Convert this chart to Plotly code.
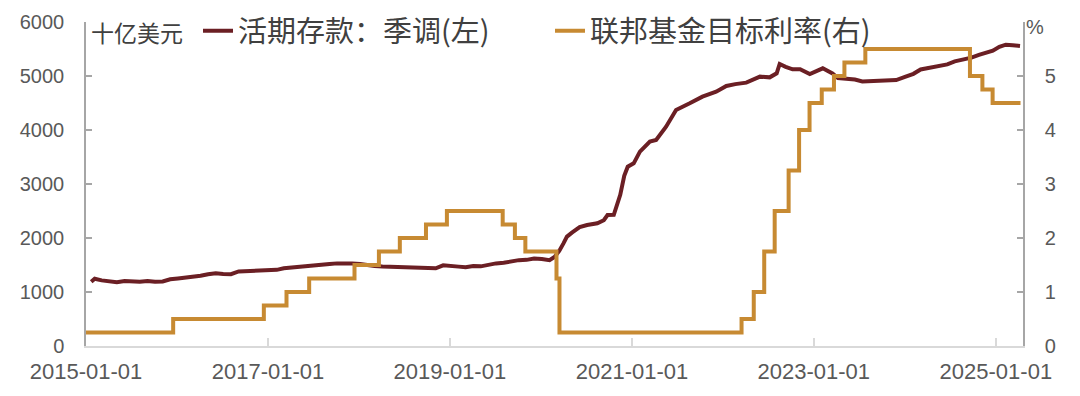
import plotly.graph_objects as go

# 活期存款：季调 (十亿美元)
dep_dates = [
    "2015-01-22", "2015-02-05", "2015-03-05", "2015-04-05", "2015-05-05", "2015-06-05",
    "2015-07-05", "2015-08-05", "2015-09-05", "2015-10-05", "2015-11-05", "2015-12-05",
    "2016-01-05", "2016-02-05", "2016-03-05", "2016-04-05", "2016-05-05", "2016-06-05",
    "2016-07-05", "2016-08-05", "2016-09-05", "2016-10-05", "2016-11-05", "2016-12-05",
    "2017-01-05", "2017-02-05", "2017-03-05", "2017-04-05", "2017-05-05", "2017-06-05",
    "2017-07-05", "2017-08-05", "2017-09-05", "2017-10-05", "2017-11-05", "2017-12-05",
    "2018-01-05", "2018-02-05", "2018-03-05", "2018-04-05", "2018-05-05", "2018-06-05",
    "2018-07-05", "2018-08-05", "2018-09-05", "2018-10-05", "2018-11-05", "2018-12-05",
    "2019-01-05", "2019-02-05", "2019-03-05", "2019-04-05", "2019-05-05", "2019-06-05",
    "2019-07-05", "2019-08-05", "2019-09-05", "2019-10-05", "2019-11-05", "2019-12-05",
    "2020-01-05", "2020-02-05", "2020-02-25", "2020-03-15", "2020-04-01", "2020-04-15",
    "2020-05-05", "2020-06-05", "2020-07-05", "2020-08-15", "2020-09-10", "2020-09-25",
    "2020-10-20", "2020-11-15", "2020-12-01", "2020-12-15", "2021-01-08", "2021-02-02",
    "2021-03-14", "2021-04-08", "2021-05-18", "2021-06-27", "2021-08-21", "2021-10-11",
    "2021-12-05", "2022-01-15", "2022-02-20", "2022-04-05", "2022-05-30", "2022-07-08",
    "2022-08-05", "2022-08-17", "2022-09-10", "2022-10-08", "2022-11-07", "2022-12-16",
    "2023-02-06", "2023-03-17", "2023-04-08", "2023-05-15", "2023-06-15", "2023-07-15",
    "2023-08-15", "2023-09-15", "2023-10-15", "2023-11-28", "2024-01-05", "2024-02-05",
    "2024-03-05", "2024-04-15", "2024-05-15", "2024-06-20", "2024-07-20", "2024-08-25",
    "2024-09-25", "2024-10-25", "2024-11-25", "2024-12-20", "2025-01-15", "2025-02-10",
    "2025-03-10", "2025-04-08",
]
dep_values = [
    1190, 1245, 1215, 1195, 1180, 1205,
    1200, 1190, 1205, 1190, 1195, 1235,
    1250, 1265, 1285, 1300, 1330, 1345,
    1335, 1330, 1380, 1385, 1390, 1395,
    1400, 1410, 1440, 1455, 1475, 1490,
    1495, 1515, 1520, 1530, 1535, 1530,
    1520, 1495, 1480, 1470, 1465, 1462,
    1465, 1458, 1455, 1450, 1440, 1495,
    1490, 1470, 1458, 1480, 1475, 1510,
    1530, 1540, 1565, 1590, 1595, 1620,
    1610, 1590, 1650, 1760, 1900, 2025,
    2100, 2200, 2240, 2272, 2330, 2426,
    2430, 2800, 3150, 3320, 3383, 3599,
    3784, 3815, 4061, 4370, 4494, 4617,
    4710, 4815, 4850, 4877, 4988, 4975,
    5050, 5222, 5170, 5124, 5124, 5037,
    5142, 5049, 4963, 4945, 4935, 4900,
    4905, 4915, 4920, 4925, 4990, 5040,
    5120, 5160, 5190, 5215, 5270, 5300,
    5340, 5390, 5430, 5470, 5540, 5580,
    5570, 5555,
]

# 联邦基金目标利率 (%)
ffr_dates = [
    "2015-01-01", "2015-12-17", "2016-12-15", "2017-03-16", "2017-06-15", "2017-12-14",
    "2018-03-22", "2018-06-14", "2018-09-27", "2018-12-20", "2019-08-01", "2019-09-19",
    "2019-10-31", "2020-03-04", "2020-03-16", "2022-03-17", "2022-05-05", "2022-06-16",
    "2022-07-28", "2022-09-22", "2022-11-03", "2022-12-15", "2023-02-02", "2023-03-23",
    "2023-05-04", "2023-07-27", "2024-09-19", "2024-11-08", "2024-12-19", "2025-04-10",
]
ffr_values = [
    0.25, 0.50, 0.75, 1.00, 1.25, 1.50,
    1.75, 2.00, 2.25, 2.50, 2.25, 2.00,
    1.75, 1.25, 0.25, 0.50, 1.00, 1.75,
    2.50, 3.25, 4.00, 4.50, 4.75, 5.00,
    5.25, 5.50, 5.00, 4.75, 4.50, 4.50,
]

x_tickvals = ["2015-01-01", "2017-01-01", "2019-01-01", "2021-01-01", "2023-01-01", "2025-01-01"]
x_ticktext = ["2015-01-01", "2017-01-01", "2019-01-01", "2021-01-01", "2023-01-01", "2025-01-01"]
left_ticks = [0, 1000, 2000, 3000, 4000, 5000, 6000]
right_ticks = [0, 1, 2, 3, 4, 5, 6]
right_ticktext = ["0", "1", "2", "3", "4", "5", ""]

MAROON = "#6B1F24"
GOLD = "#C78A32"
FAM = "Liberation Sans, Arial, sans-serif"
Y_FONT = dict(family=FAM, size=20, color="#595959")
X_FONT = dict(family=FAM, size=22, color="#595959")
CJK = "Noto Sans CJK SC, sans-serif"

# The page body has an 8px margin, so the figure is 8px smaller on each axis
OFF = 8
L, T, R, B = 86 - OFF, 22 - OFF, 57, 50
PW, PH = 937, 324

fig = go.Figure()
fig.add_trace(go.Scatter(
    x=dep_dates, y=dep_values, name="活期存款：季调(左)", mode="lines",
    line=dict(color=MAROON, width=4), yaxis="y",
))
fig.add_trace(go.Scatter(
    x=ffr_dates, y=ffr_values, name="联邦基金目标利率(右)", mode="lines",
    line=dict(color=GOLD, width=4, shape="hv"), yaxis="y2",
))

fig.update_layout(
    width=1080 - OFF, height=396 - OFF,
    margin=dict(l=L, r=R, t=T, b=B, autoexpand=False),
    paper_bgcolor="white", plot_bgcolor="white",
    showlegend=True,
    legend=dict(
        orientation="h", x=(198 - 86) / PW, xanchor="left",
        y=1 - (31 - 22) / PH, yanchor="middle",
        font=dict(family=CJK, size=29, color="#404040"),
        bgcolor="rgba(0,0,0,0)", entrywidth=307, entrywidthmode="pixels",
        traceorder="normal",
    ),
    xaxis=dict(
        type="date", range=["2015-01-01", "2025-04-20"], automargin=False,
        tickmode="array", tickvals=x_tickvals, ticktext=x_ticktext,
        showgrid=False, zeroline=False,
        showline=True, linecolor="#D9D9D9", linewidth=2,
        ticks="inside", ticklen=8, tickwidth=1.5, tickcolor="#D9D9D9",
        tickfont=X_FONT, ticklabelstandoff=5,
    ),
    yaxis=dict(
        range=[0, 6000], tickmode="array", tickvals=left_ticks, automargin=False,
        showgrid=False, zeroline=False,
        showline=True, linecolor="#A6A6A6", linewidth=1.5,
        ticks="inside", ticklen=6, tickwidth=1.5, tickcolor="#A6A6A6",
        tickfont=Y_FONT, ticklabelstandoff=16,
    ),
    yaxis2=dict(
        range=[0, 6], overlaying="y", side="right", tickmode="array", automargin=False,
        tickvals=right_ticks, ticktext=right_ticktext,
        showgrid=False, zeroline=False,
        showline=True, linecolor="#A6A6A6", linewidth=1.5,
        ticks="inside", ticklen=6, tickwidth=1.5, tickcolor="#A6A6A6",
        tickfont=Y_FONT, ticklabelstandoff=16,
    ),
    annotations=[
        dict(text="十亿美元", xref="paper", yref="paper",
             x=(89 - 86) / PW, y=1 - (32 - 22) / PH, xanchor="left", yanchor="middle",
             showarrow=False, font=dict(family=CJK, size=23, color="#404040")),
        dict(text="%", xref="paper", yref="paper",
             x=(1024 - 86) / PW, y=1 - (27 - 22) / PH, xanchor="left", yanchor="middle",
             showarrow=False, font=dict(family=FAM, size=20, color="#595959")),
    ],
)

fig.write_html("out.html")
